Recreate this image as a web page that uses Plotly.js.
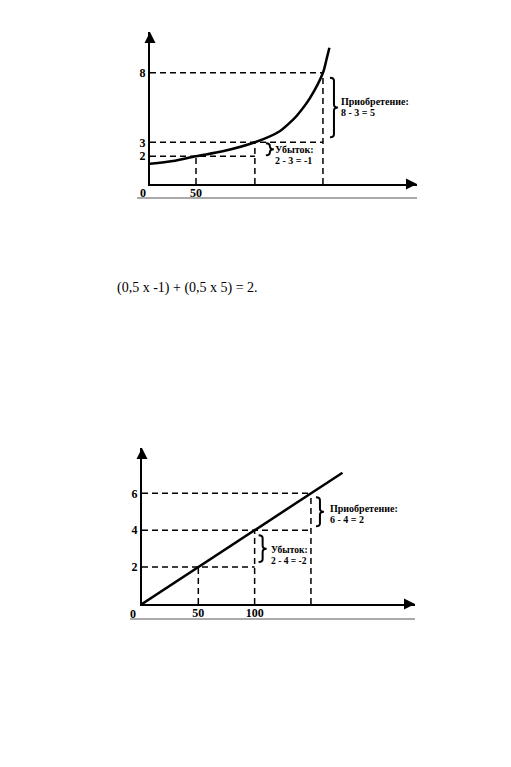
<!DOCTYPE html>
<html><head><meta charset="utf-8">
<script src="https://cdn.plot.ly/plotly-3.0.1.min.js"></script>
<style>html,body{margin:0;padding:0;background:#fff}#c{width:511px;height:767px}</style>
</head><body><div id="c"></div>
<script>
// ---- Data: top chart (convex curve) ----
const topCurveX = [0, 25, 50, 79, 114, 141, 155, 160, 174, 188, 192, 195];
const topCurveY = [1.45, 1.65, 2, 2.35, 3, 3.8, 4.6, 4.95, 6.2, 8, 9, 9.8];
const topXTicks = [50];
const topYTicks = [2, 3, 8];
const topHLineY = [8, 3, 2];
const topHLineEnd = [188, 188, 114];
const topVLineX = [50, 114, 188];
const topVLineTop = [2, 3, 8];
const topGainLabel = ["Приобретение:", "8 - 3 = 5"];
const topLossLabel = ["Убыток:", "2 - 3 = -1"];

// ---- Data: bottom chart (straight line) ----
const botLineX = [0, 50, 100, 150, 178];
const botLineY = [0, 2, 4, 6, 7.12];
const botXTicks = [50, 100];
const botYTicks = [2, 4, 6];
const botHLineY = [6, 4, 2];
const botHLineEnd = [150, 150, 100];
const botVLineX = [50, 100, 150];
const botVLineTop = [2, 4, 6];
const botGainLabel = ["Приобретение:", "6 - 4 = 2"];
const botLossLabel = ["Убыток:", "2 - 4 = -2"];

const middleText = "(0,5 x -1) + (0,5 x 5) = 2.";

// ---- Layout geometry ----
const W = 511, H = 767;
const px = (p) => p / W, py = (p) => 1 - p / H;
const gTop = {x0:150, x1:417, y0:184, y1:32, sx:0.92, sy:13.9};
const gBot = {x0:142, x1:415, y0:604, y1:448, sx:1.1263, sy:18.44};
gTop.xr = (gTop.x1-gTop.x0)/gTop.sx; gTop.yr = (gTop.y0-gTop.y1)/gTop.sy;
gBot.xr = (gBot.x1-gBot.x0)/gBot.sx; gBot.yr = (gBot.y0-gBot.y1)/gBot.sy;

const serif = "Liberation Serif, Times New Roman, serif";
const dash = "6px,4px";

function guides(hy, hend, vx, vtop, xa, ya){
  const x=[], y=[];
  hy.forEach((v,i)=>{x.push(0,hend[i],null); y.push(v,v,null);});
  vx.forEach((v,i)=>{x.push(v,v,null); y.push(0,vtop[i],null);});
  return {x, y, xaxis:xa, yaxis:ya, mode:'lines', hoverinfo:'skip',
          line:{color:'#000', width:1.5, dash:dash}, showlegend:false};
}

function brace(xr, yr, g, x, yLo, yHi, offPx, insPx){
  const wx = 8/g.sx, ox = offPx/g.sx, ins = insPx/g.sy, r = 3/g.sy;
  const x0 = x+ox, x1 = x0+wx/2, x2 = x0+wx;
  const y1 = yHi-ins, y0 = yLo+ins, ym = (y0+y1)/2;
  const path = `M ${x0},${y1} Q ${x1},${y1} ${x1},${y1-r} L ${x1},${ym+r} Q ${x1},${ym} ${x2},${ym} `+
               `Q ${x1},${ym} ${x1},${ym-r} L ${x1},${y0+r} Q ${x1},${y0} ${x0},${y0}`;
  return {type:'path', xref:xr, yref:yr, path, line:{color:'#000', width:2}};
}

function label(xr, yr, x, yMid, lines, shiftPx, dy, size){
  return lines.map((t,i)=>({xref:xr, yref:yr, x, y:yMid, text:t, showarrow:false,
    xanchor:'left', yanchor:'middle', xshift:shiftPx, yshift: (i===0? 5 : -6) + dy,
    font:{family:serif, size:size || 10, color:'#000', weight:'bold'}}));
}

function arrow(xr, yr, x, y, ax, ay){
  return {xref:xr, yref:yr, x, y, ax, ay, axref:'pixel', ayref:'pixel', text:'', showarrow:true,
    arrowhead:2, arrowsize:1.1, arrowwidth:2, arrowcolor:'#000', standoff:0};
}

const traces = [
  guides(topHLineY, topHLineEnd, topVLineX, topVLineTop, 'x', 'y'),
  {x:topCurveX, y:topCurveY, xaxis:'x', yaxis:'y', mode:'lines', line:{color:'#000', width:2.5, shape:'spline', smoothing:0.8}, showlegend:false},
  guides(botHLineY, botHLineEnd, botVLineX, botVLineTop, 'x2', 'y2'),
  {x:botLineX, y:botLineY, xaxis:'x2', yaxis:'y2', mode:'lines', line:{color:'#000', width:2.5}, showlegend:false}
];

function axisCommon(){
  return {showgrid:false, zeroline:false, showline:true, linecolor:'#000', linewidth:2,
    ticks:'', tickmode:'array', fixedrange:true,
    tickfont:{family:serif, size:12, color:'#000', weight:'bold'}};
}

const layout = {
  width:W, height:H, margin:{l:0,r:0,t:0,b:0}, paper_bgcolor:'#fff', plot_bgcolor:'rgba(0,0,0,0)',
  showlegend:false,
  xaxis: Object.assign(axisCommon(), {domain:[px(gTop.x0), px(gTop.x1)], range:[0, gTop.xr], tickvals:topXTicks, anchor:'y', ticklabelstandoff:-3}),
  yaxis: Object.assign(axisCommon(), {domain:[py(gTop.y0), py(gTop.y1)], range:[0, gTop.yr], tickvals:topYTicks, anchor:'x'}),
  xaxis2: Object.assign(axisCommon(), {domain:[px(gBot.x0), px(gBot.x1)], range:[0, gBot.xr], tickvals:botXTicks, anchor:'y2', ticklabelstandoff:-3}),
  yaxis2: Object.assign(axisCommon(), {domain:[py(gBot.y0), py(gBot.y1)], range:[0, gBot.yr], tickvals:botYTicks, anchor:'x2'}),
  shapes: [
    brace('x','y', gTop, topVLineX[2], topHLineY[1], topHLineY[0], 7, 5),
    brace('x','y', gTop, topVLineX[1], topHLineY[2], topHLineY[1], 11, 1),
    brace('x2','y2', gBot, botVLineX[2], botHLineY[1], botHLineY[0], 5, 4),
    brace('x2','y2', gBot, botVLineX[1], botHLineY[2], botHLineY[1], 4, 5),
    {type:'line', xref:'paper', yref:'paper', x0:px(137), x1:px(417), y0:py(198), y1:py(198), line:{color:'#aaa', width:2}},
    {type:'line', xref:'paper', yref:'paper', x0:px(130), x1:px(415), y0:py(619), y1:py(619), line:{color:'#aaa', width:2}}
  ],
  annotations: [
    ...label('x','y', topVLineX[2], (topHLineY[0]+topHLineY[1])/2, topGainLabel, 16, 1),
    ...label('x','y', topVLineX[1], (topHLineY[1]+topHLineY[2])/2, topLossLabel, 18, -5),
    ...label('x2','y2', botVLineX[2], (botHLineY[0]+botHLineY[1])/2, botGainLabel, 17, -2),
    ...label('x2','y2', botVLineX[1], (botHLineY[1]+botHLineY[2])/2, botLossLabel, 14, -6, 9.5),
    {xref:'x', yref:'y', x:0, y:0, text:'0', showarrow:false, xanchor:'center', yanchor:'middle', xshift:-7, yshift:-9,
     font:{family:serif, size:12, color:'#000', weight:'bold'}},
    {xref:'x2', yref:'y2', x:0, y:0, text:'0', showarrow:false, xanchor:'center', yanchor:'middle', xshift:-9, yshift:-10,
     font:{family:serif, size:12, color:'#000', weight:'bold'}},
    arrow('x','y', gTop.xr, 0, -12, 0),
    arrow('x','y', 0, gTop.yr, 0, 12),
    arrow('x2','y2', gBot.xr, 0, -12, 0),
    arrow('x2','y2', 0, gBot.yr, 0, 12),
    {xref:'paper', yref:'paper', x:px(115), y:py(288), text:middleText, showarrow:false, xanchor:'left', yanchor:'middle',
     font:{family:serif, size:14, color:'#000'}}
  ]
};

Plotly.newPlot('c', traces, layout, {displayModeBar:false, staticPlot:true});
</script></body></html>
